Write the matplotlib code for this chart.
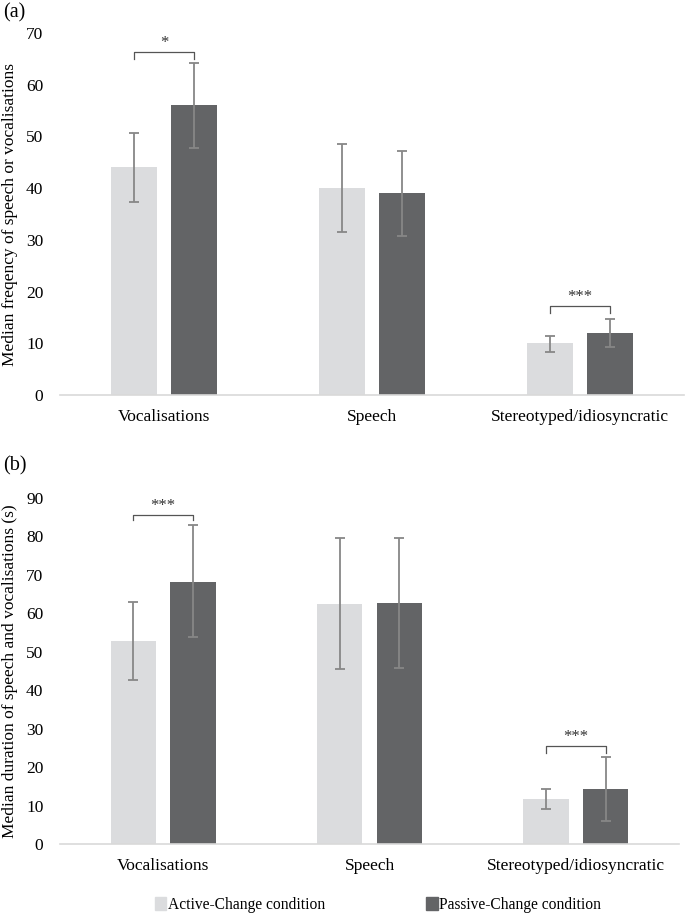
import numpy as np
import matplotlib.pyplot as plt
from matplotlib.patches import Patch

plt.rcParams['font.family'] = ['Liberation Serif', 'DejaVu Serif']
plt.rcParams['font.size'] = 12

# Data
categories = ['Vocalisations', 'Speech', 'Stereotyped/idiosyncratic']

# (a) frequency
freq_active = [44, 40, 10]
freq_active_lo = [37.3, 31.5, 8.4]
freq_active_hi = [50.7, 48.5, 11.5]
freq_passive = [56, 39, 12]
freq_passive_lo = [47.8, 30.8, 9.2]
freq_passive_hi = [64.2, 47.1, 14.6]

# (b) duration
dur_active = [52.8, 62.4, 11.6]
dur_active_lo = [42.6, 45.4, 9.0]
dur_active_hi = [62.9, 79.5, 14.2]
dur_passive = [68.1, 62.6, 14.2]
dur_passive_lo = [53.7, 45.8, 6.0]
dur_passive_hi = [82.8, 79.5, 22.5]

# significance brackets: (category index, bracket height, leg bottom, label)
sig_a = [(0, 66.4, 65.0, '*'), (2, 17.2, 15.9, '***')]
sig_b = [(0, 85.6, 84.2, '***'), (2, 25.5, 23.7, '***')]

c_active = '#dbdcde'
c_passive = '#636466'
c_err = '#878787'
c_axis = '#d9d9d9'

W, H = 688, 918
fig = plt.figure(figsize=(W / 100, H / 100), dpi=100)


def px_axes(left, right, top, bottom):
    return fig.add_axes([left / W, 1 - bottom / H, (right - left) / W, (bottom - top) / H])


def draw_panel(ax, act, act_lo, act_hi, pas, pas_lo, pas_hi, ymax, ylabel, sig):
    x = np.arange(len(categories))
    w = 0.22
    off = 0.144
    ax.bar(x - off, act, w, color=c_active, zorder=2)
    ax.bar(x + off, pas, w, color=c_passive, zorder=2)
    act = np.array(act)
    pas = np.array(pas)
    ax.errorbar(x - off, act, yerr=[act - np.array(act_lo), np.array(act_hi) - act],
                fmt='none', ecolor=c_err, elinewidth=1.3, capsize=3.5, capthick=1.3, zorder=3)
    ax.errorbar(x + off, pas, yerr=[pas - np.array(pas_lo), np.array(pas_hi) - pas],
                fmt='none', ecolor=c_err, elinewidth=1.3, capsize=3.5, capthick=1.3, zorder=3)
    for i, yb, yl, lab in sig:
        x0, x1 = i - off, i + off
        ax.plot([x0, x0, x1, x1], [yl, yb, yb, yl], color='#555555', lw=0.9, zorder=4)
        ax.text(i, yb + ymax * 0.002, lab, ha='center', va='bottom', fontsize=12, color='#333333')
    ax.set_xlim(-0.5, len(categories) - 0.5)
    ax.set_ylim(0, ymax)
    ax.set_yticks(np.arange(0, ymax + 1, 10))
    ax.set_xticks(x)
    ax.set_xticklabels(categories)
    ax.tick_params(length=0, pad=10, labelsize=12.5)
    ax.tick_params(axis='y', pad=12)
    for s in ['top', 'right', 'left']:
        ax.spines[s].set_visible(False)
    ax.spines['bottom'].set_color(c_axis)
    ax.spines['bottom'].set_linewidth(1.2)
    ax.set_ylabel(ylabel, fontsize=12.5, labelpad=6)


ax1 = px_axes(60, 684, 33, 395)
draw_panel(ax1, freq_active, freq_active_lo, freq_active_hi,
           freq_passive, freq_passive_lo, freq_passive_hi, 70,
           'Median freqency of speech or vocalisations', sig_a)
fig.text(3 / W, 1 - 13 / H, '(a)', fontsize=14.5, va='center', ha='left')

ax2 = px_axes(60, 679, 497.7, 844)
draw_panel(ax2, dur_active, dur_active_lo, dur_active_hi,
           dur_passive, dur_passive_lo, dur_passive_hi, 90,
           'Median duration of speech and vocalisations (s)', sig_b)
fig.text(3 / W, 1 - 466 / H, '(b)', fontsize=14.5, va='center', ha='left')

handles = [Patch(color=c_active, label='Active-Change condition'),
           Patch(color=c_passive, label='Passive-Change condition')]
fig.legend(handles=handles, loc='center', bbox_to_anchor=(378 / W, 1 - 905 / H), ncol=2,
           frameon=False, handlelength=0.75, handleheight=0.9, handletextpad=0.1,
           columnspacing=6.5, fontsize=11.2)

fig.savefig('out.png', dpi=100)
